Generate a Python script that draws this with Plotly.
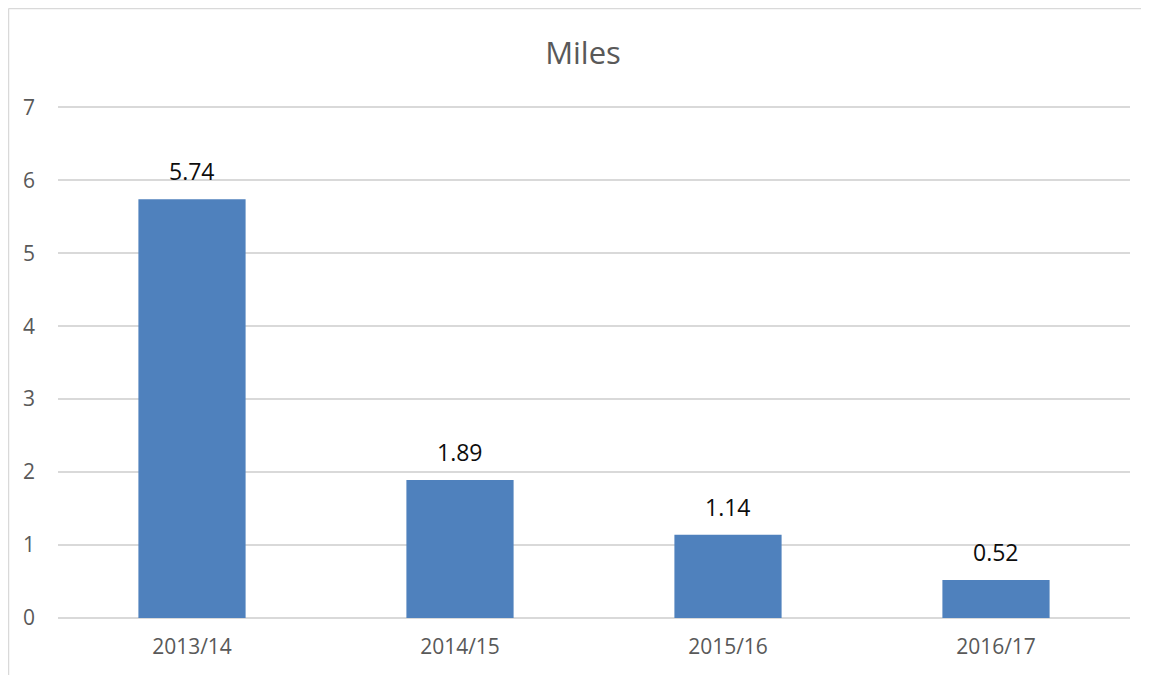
import plotly.graph_objects as go

categories = ["2013/14", "2014/15", "2015/16", "2016/17"]
miles = [5.74, 1.89, 1.14, 0.52]
y_ticks = [0, 1, 2, 3, 4, 5, 6, 7]

# the page adds an 8px body margin, so the figure starts at screen (8, 8)
W, H = 1141, 667
L, R, T, B = 50, 19, 92, 57
pw, ph = W - L - R, H - T - B

def px_x(x):
    return (x - L) / pw

def px_y(y):
    return (H - B - y) / ph

fig = go.Figure()
fig.add_trace(go.Bar(
    x=categories, y=miles,
    marker=dict(color="#4f81bd", line=dict(width=0)),
    hoverinfo="x+y",
))

for c, v in zip(categories, miles):
    fig.add_annotation(x=c, y=v, text=f"{v:.2f}", showarrow=False,
                       yanchor="middle", yshift=28,
                       font=dict(family="Open Sans", size=23, color="#0d0d0d"))

fig.update_layout(
    width=W, height=H,
    margin=dict(l=L, r=R, t=T, b=B, autoexpand=False),
    paper_bgcolor="white", plot_bgcolor="white",
    bargap=0.6,
    showlegend=False,
    title=dict(text="Miles", x=575 / W, xanchor="center",
               y=1 - 45 / H, yanchor="middle",
               font=dict(family="Open Sans", size=31, color="#595959")),
    font=dict(family="Open Sans", color="#595959"),
    xaxis=dict(showgrid=False, showline=False, ticks="",
               tickfont=dict(size=21, color="#595959"), ticklabelstandoff=14),
    yaxis=dict(range=[0, 7.1], tickvals=y_ticks, showgrid=True,
               gridcolor="#d9d9d9", gridwidth=1.5, zeroline=True,
               zerolinecolor="#d9d9d9", zerolinewidth=1.5, showline=False,
               ticks="", tickfont=dict(size=21, color="#595959"),
               ticklabelstandoff=22),
    shapes=[
        dict(type="line", xref="paper", yref="paper",
             x0=px_x(0.5), x1=px_x(0.5), y0=px_y(0.5), y1=px_y(700),
             line=dict(color="#d9d9d9", width=1.5)),
        dict(type="line", xref="paper", yref="paper",
             x0=px_x(0.5), x1=px_x(1200), y0=px_y(0.5), y1=px_y(0.5),
             line=dict(color="#d9d9d9", width=1.5)),
    ],
)

fig.write_html("out.html")
